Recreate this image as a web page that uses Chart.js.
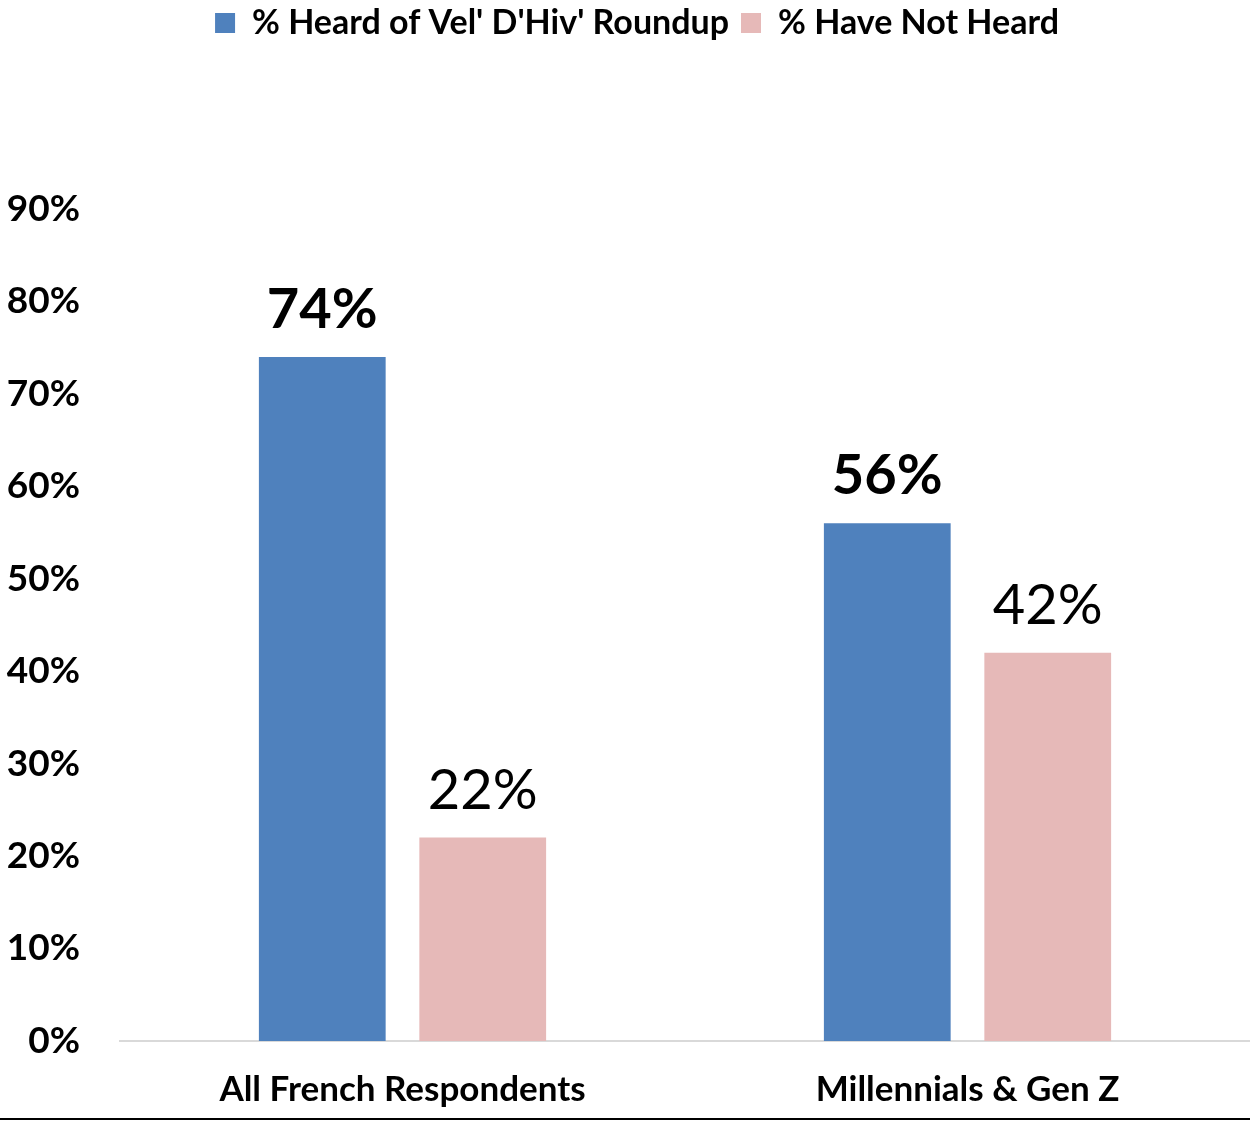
<!DOCTYPE html>
<html><head><meta charset="utf-8">
<script src="https://cdn.jsdelivr.net/npm/chart.js@4/dist/chart.umd.min.js"></script>
<style>html,body{margin:0;padding:0;background:#fff}#wrap{width:1250px;height:1121px;position:relative}</style>
</head><body><div id="wrap"><canvas id="c" width="1250" height="1121"></canvas></div>
<script>
const categories = ["All French Respondents", "Millennials & Gen Z"];
const heardValues = [74, 56];
const notHeardValues = [22, 42];
const seriesNames = ["% Heard of Vel' D'Hiv' Roundup", "% Have Not Heard"];
const yTicks = [0, 10, 20, 30, 40, 50, 60, 70, 80, 90];

const FONT = "Lato, 'Open Sans', sans-serif";

const legendMargin = {
  id: 'legendMargin',
  beforeInit(chart) {
    const fit = chart.legend.fit;
    chart.legend.fit = function () {
      fit.bind(chart.legend)();
      this.height += 159;
      if (this.lineWidths && this.lineWidths.length) { this.lineWidths[0] -= 24; }
    };
  }
};

const dataLabels = {
  id: 'dataLabels',
  afterDatasetsDraw(chart) {
    const ctx = chart.ctx;
    ctx.save();
    ctx.textAlign = 'center';
    ctx.textBaseline = 'alphabetic';
    ctx.fillStyle = '#000';
    chart.data.datasets.forEach((ds, i) => {
      const meta = chart.getDatasetMeta(i);
      ctx.font = (i === 0 ? 'bold ' : '') + '56px ' + FONT;
      meta.data.forEach((bar, j) => {
        ctx.fillText(ds.data[j] + '%', bar.x, bar.y - 29);
      });
    });
    ctx.restore();
  }
};

const bottomLine = {
  id: 'bottomLine',
  afterDraw(chart) {
    const ctx = chart.ctx;
    ctx.save();
    ctx.strokeStyle = '#000';
    ctx.lineWidth = 2;
    ctx.beginPath();
    ctx.moveTo(0, 1119);
    ctx.lineTo(chart.width, 1119);
    ctx.stroke();
    ctx.restore();
  }
};

new Chart(document.getElementById('c'), {
  type: 'bar',
  data: {
    labels: categories,
    datasets: [
      { label: seriesNames[0], data: heardValues, backgroundColor: '#4F81BD' },
      { label: seriesNames[1], data: notHeardValues, backgroundColor: '#E6B9B8' }
    ]
  },
  options: {
    responsive: false,
    animation: false,
    devicePixelRatio: 1,
    layout: { padding: { top: -6, left: 0, right: 0, bottom: 0 } },
    datasets: { bar: { categoryPercentage: 0.568, barPercentage: 0.79 } },
    plugins: {
      legend: {
        position: 'top',
        labels: {
          boxWidth: 20, boxHeight: 20, padding: 12,
          color: '#000',
          font: { family: FONT, size: 34, weight: 'bold' }
        }
      },
      tooltip: { enabled: false }
    },
    scales: {
      x: {
        grid: { display: false },
        border: { display: true, color: '#d9d9d9', width: 2 },
        ticks: { color: '#000', padding: 20, font: { family: FONT, size: 35, weight: 'bold' } },
        afterFit(scale) { scale.height = 80; }
      },
      y: {
        min: 0, max: 90,
        grid: { display: false },
        border: { display: false },
        afterBuildTicks(scale) { scale.ticks = yTicks.map(v => ({ value: v })); },
        ticks: {
          color: '#000', padding: 32,
          font: { family: FONT, size: 37, weight: 'bold' },
          callback: v => v + '%'
        },
        afterFit(scale) { scale.width = 120; }
      }
    }
  },
  plugins: [legendMargin, dataLabels, bottomLine]
});
</script></body></html>
